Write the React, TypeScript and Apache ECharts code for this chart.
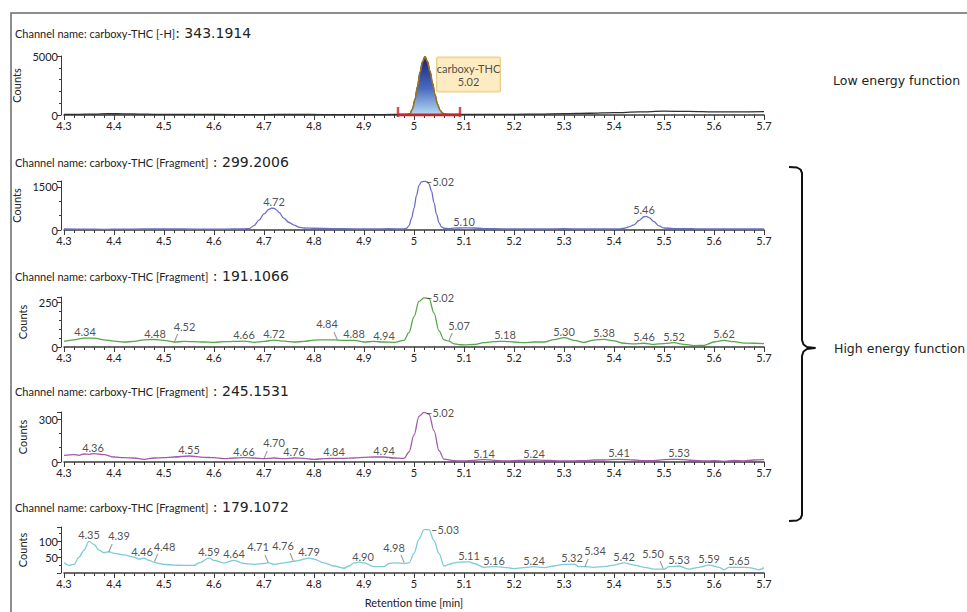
import React, { useEffect, useRef } from "react";
import * as echarts from "echarts";

// ---------- data ----------
const xTickMin = 4.3;
const xTickMax = 5.7;
const xTickStep = 0.1;

const channelNames = [
  "Channel name: carboxy-THC [-H]",
  "Channel name: carboxy-THC [Fragment]",
  "Channel name: carboxy-THC [Fragment]",
  "Channel name: carboxy-THC [Fragment]",
  "Channel name: carboxy-THC [Fragment]",
];
const channelMasses = [": 343.1914", " : 299.2006", " : 191.1066", " : 245.1531", " : 179.1072"];

const yMaxes = [5000, 1700, 280, 350, 145];
const yIntervals = [5000, 1500, 250, 300, 50];
const yMinorSplits = [5, 3, 5, 3, 2];

// low energy function 343.1914
const p1Trace = [
  [4.3, 50], [4.33, 60], [4.36, 80], [4.39, 110], [4.42, 100], [4.45, 80], [4.48, 60], [4.52, 50],
  [4.58, 45], [4.64, 40], [4.7, 40], [4.76, 45], [4.82, 40], [4.88, 40], [4.94, 40], [4.98, 50],
  [4.987, 60], [4.992, 100], [4.997, 500], [5.002, 1300], [5.007, 2400], [5.012, 3600], [5.017, 4500],
  [5.022, 4950], [5.027, 4500], [5.032, 3700], [5.037, 2700], [5.042, 1700], [5.047, 900], [5.052, 400],
  [5.057, 150], [5.062, 70], [5.07, 55], [5.1, 50], [5.15, 50], [5.2, 60], [5.25, 80], [5.3, 110],
  [5.35, 150], [5.4, 200], [5.45, 260], [5.5, 320], [5.55, 300], [5.6, 260], [5.65, 270], [5.7, 280],
];
const p1Peak = [
  [4.987, 60], [4.992, 100], [4.997, 500], [5.002, 1300], [5.007, 2400], [5.012, 3600], [5.017, 4500],
  [5.022, 4950], [5.027, 4500], [5.032, 3700], [5.037, 2700], [5.042, 1700], [5.047, 900], [5.052, 400],
  [5.057, 150], [5.062, 70],
];
const p1Integration = [4.968, 5.092];
const p1PeakName = "carboxy-THC";
const p1PeakRt = 5.022;
const p1PeakCounts = 4950;

// high energy 299.2006
const p2Trace = [
  [4.3, 35], [4.34, 30], [4.38, 25], [4.42, 30], [4.46, 35], [4.5, 40], [4.54, 35], [4.58, 30], [4.62, 30],
  [4.66, 40], [4.67, 50], [4.68, 150], [4.69, 340], [4.7, 560], [4.71, 720], [4.715, 760], [4.72, 750],
  [4.725, 700], [4.73, 610], [4.74, 400], [4.75, 260], [4.76, 170], [4.77, 100], [4.78, 70], [4.8, 60],
  [4.84, 50], [4.88, 40], [4.92, 40], [4.95, 45], [4.98, 40], [4.985, 60], [4.99, 150], [4.995, 400],
  [5.0, 750], [5.005, 1200], [5.01, 1550], [5.015, 1670], [5.02, 1690], [5.025, 1680], [5.03, 1600],
  [5.035, 1350], [5.04, 950], [5.045, 550], [5.05, 250], [5.055, 110], [5.06, 60], [5.07, 50], [5.08, 65],
  [5.1, 75], [5.12, 70], [5.14, 50], [5.18, 40], [5.22, 35], [5.26, 35], [5.3, 45], [5.34, 35], [5.38, 35],
  [5.41, 40], [5.42, 60], [5.43, 110], [5.44, 180], [5.45, 330], [5.46, 460], [5.465, 470], [5.47, 430],
  [5.48, 290], [5.49, 140], [5.5, 70], [5.52, 50], [5.56, 45], [5.6, 35], [5.65, 35], [5.7, 35],
];
const p2Labels = [[4.72, 760, "t"], [5.02, 1690, "r"], [5.1, 75, "t"], [5.46, 470, "t"]];

// high energy 191.1066
const p3Trace = [
  [4.3, 31], [4.32, 40], [4.34, 50], [4.36, 50], [4.38, 40], [4.4, 33], [4.42, 28], [4.44, 31], [4.46, 40],
  [4.48, 42], [4.5, 37], [4.52, 28], [4.54, 31], [4.56, 30], [4.58, 28], [4.6, 26], [4.62, 30], [4.64, 31],
  [4.66, 33], [4.68, 26], [4.7, 31], [4.72, 39], [4.74, 33], [4.76, 28], [4.78, 31], [4.8, 39], [4.82, 40],
  [4.84, 40], [4.86, 37], [4.88, 37], [4.9, 28], [4.92, 31], [4.94, 28], [4.96, 26], [4.98, 37], [4.99, 80],
  [5.0, 170], [5.01, 255], [5.02, 275], [5.03, 272], [5.04, 190], [5.05, 90], [5.06, 40], [5.07, 33],
  [5.08, 18], [5.09, 13], [5.1, 12], [5.12, 14], [5.14, 24], [5.16, 30], [5.18, 32], [5.2, 28], [5.22, 24],
  [5.24, 28], [5.26, 28], [5.28, 41], [5.3, 53], [5.32, 37], [5.34, 26], [5.36, 39], [5.38, 43], [5.4, 34],
  [5.42, 21], [5.44, 17], [5.46, 21], [5.48, 15], [5.5, 19], [5.52, 24], [5.54, 15], [5.56, 8], [5.58, 9],
  [5.6, 28], [5.62, 37], [5.64, 30], [5.66, 22], [5.68, 21], [5.7, 19],
];
const p3Labels = [
  [4.342, 50, "t"], [4.482, 42, "t"], [4.523, 28, "/"], [4.66, 33, "t"], [4.72, 39, "t"], [4.844, 40, "\\"],
  [4.88, 37, "t"], [4.94, 28, "t"], [5.02, 275, "r"], [5.072, 33, "/"], [5.182, 32, "t"], [5.3, 53, "t"],
  [5.38, 43, "t"], [5.46, 21, "t"], [5.52, 24, "t"], [5.62, 37, "t"],
];

// high energy 245.1531
const p4Trace = [
  [4.3, 47], [4.32, 52], [4.33, 47], [4.34, 56], [4.35, 54], [4.36, 59], [4.38, 52], [4.4, 35], [4.42, 30],
  [4.44, 28], [4.46, 19], [4.48, 28], [4.5, 30], [4.52, 35], [4.55, 42], [4.58, 33], [4.6, 30], [4.62, 23],
  [4.64, 28], [4.66, 30], [4.68, 28], [4.7, 23], [4.72, 28], [4.74, 23], [4.76, 28], [4.78, 26], [4.8, 19],
  [4.82, 23], [4.84, 26], [4.86, 26], [4.88, 28], [4.9, 33], [4.92, 35], [4.94, 35], [4.96, 28], [4.98, 25],
  [4.99, 70], [5.0, 190], [5.01, 320], [5.02, 347], [5.03, 335], [5.04, 220], [5.05, 80], [5.06, 20],
  [5.08, 9], [5.1, 7], [5.12, 12], [5.14, 17], [5.16, 12], [5.18, 7], [5.2, 10], [5.22, 12], [5.24, 14],
  [5.26, 12], [5.28, 10], [5.3, 7], [5.32, 8], [5.34, 10], [5.36, 14], [5.38, 14], [5.41, 19], [5.44, 14],
  [5.46, 10], [5.48, 10], [5.5, 17], [5.53, 19], [5.56, 12], [5.58, 7], [5.6, 10], [5.62, 5], [5.64, 12],
  [5.66, 7], [5.68, 14], [5.7, 17],
];
const p4Labels = [
  [4.358, 59, "t"], [4.55, 42, "t"], [4.66, 30, "t"], [4.702, 23, "/"], [4.76, 28, "t"], [4.84, 26, "t"],
  [4.94, 35, "t"], [5.02, 347, "r"], [5.14, 17, "t"], [5.24, 14, "t"], [5.41, 19, "t"], [5.53, 19, "t"],
];

// high energy 179.1072
const p5Trace = [
  [4.3, 32], [4.31, 24], [4.32, 27], [4.33, 50], [4.34, 72], [4.35, 100], [4.36, 90], [4.37, 72], [4.38, 64],
  [4.39, 67], [4.4, 62], [4.42, 57], [4.44, 50], [4.45, 44], [4.46, 47], [4.47, 40], [4.48, 34], [4.49, 30],
  [4.5, 27], [4.52, 25], [4.54, 24], [4.56, 24], [4.57, 32], [4.59, 47], [4.6, 40], [4.62, 32], [4.64, 40],
  [4.66, 30], [4.68, 27], [4.7, 30], [4.71, 32], [4.72, 27], [4.74, 32], [4.76, 37], [4.77, 40], [4.79, 47],
  [4.8, 44], [4.82, 32], [4.84, 22], [4.86, 15], [4.87, 22], [4.88, 32], [4.89, 34], [4.9, 32], [4.92, 20],
  [4.94, 20], [4.95, 30], [4.96, 32], [4.98, 30], [4.99, 32], [5.0, 62], [5.01, 107], [5.02, 137],
  [5.03, 137], [5.04, 102], [5.05, 62], [5.06, 22], [5.07, 27], [5.08, 32], [5.09, 34], [5.1, 35],
  [5.11, 35], [5.12, 30], [5.14, 18], [5.16, 20], [5.18, 18], [5.2, 14], [5.22, 17], [5.24, 20], [5.26, 17],
  [5.28, 22], [5.3, 27], [5.32, 28], [5.33, 20], [5.34, 20], [5.36, 18], [5.38, 20], [5.4, 25], [5.42, 32],
  [5.44, 25], [5.46, 18], [5.48, 12], [5.5, 12], [5.51, 20], [5.53, 22], [5.55, 12], [5.57, 18], [5.59, 25],
  [5.61, 18], [5.62, 10], [5.63, 18], [5.65, 18], [5.67, 17], [5.69, 10], [5.7, 17],
];
const p5Labels = [
  [4.35, 100, "t"], [4.392, 67, "/"], [4.456, 47, "t"], [4.483, 34, "/"], [4.59, 47, "t"], [4.64, 40, "t"],
  [4.706, 32, "\\"], [4.756, 37, "\\"], [4.79, 47, "t"], [4.898, 32, "t"], [4.978, 30, "\\"], [5.03, 137, "r"],
  [5.11, 35, "t"], [5.16, 20, "t"], [5.24, 20, "t"], [5.316, 28, "t"], [5.344, 20, "/"], [5.42, 32, "t"],
  [5.496, 12, "\\"], [5.53, 22, "t"], [5.59, 25, "t"], [5.65, 18, "t"],
];

const traceColors = ["#2e2e2e", "#6a70c6", "#56a64a", "#a25aab", "#7ccbd9"];
const rightTexts = ["Low energy function", "High energy function"];
const xAxisTitle = "Retention time [min]";
const yAxisTitle = "Counts";

// ---------- layout ----------
const FONT = 'Lato, "Liberation Sans", sans-serif';
const BIG_FONT = '"DejaVu Sans", Verdana, sans-serif';
const gridTops = [56, 181, 297, 412, 527];
const gridHeights = [59, 49, 50, 50, 46];
const titleCenters = [33, 162, 276, 391, 507];
const AX = "#3a3a3a";
const TXT = "#222";

const rtText = (t: number) => (Math.round(t * 100) / 100).toFixed(2);

function labelSeries(idx: number, labels: any[]) {
  return {
    type: "scatter",
    xAxisIndex: idx,
    yAxisIndex: idx,
    symbolSize: 0,
    silent: true,
    z: 6,
    data: labels.map(([t, v, k]: any) => {
      const txt = rtText(t);
      let label: any;
      if (k === "r") {
        label = { position: "right", distance: 2, formatter: "\u2013" + txt };
      } else if (k === "/" || k === "\\") {
        label = {
          position: "top",
          distance: 0,
          offset: [k === "/" ? 9 : -9, 0],
          formatter: `{t|${txt}}\n{l|${k}}`,
          rich: {
            t: { fontSize: 11, fontFamily: FONT, color: TXT, lineHeight: 12 },
            l: { fontSize: 10, fontFamily: FONT, color: "#333", lineHeight: 10, align: k === "/" ? "left" : "right" },
          },
        };
      } else {
        label = { position: "top", distance: 1, formatter: txt };
      }
      return { value: [t, v], label };
    }),
    label: { show: true, color: TXT, fontSize: 11, fontFamily: FONT },
  };
}

function traceSeries(idx: number, data: number[][], color: string) {
  return {
    type: "line",
    xAxisIndex: idx,
    yAxisIndex: idx,
    data,
    symbol: "none",
    smooth: 0.35,
    smoothMonotone: "x",
    lineStyle: { color, width: 1.3 },
    silent: true,
    z: 3,
  };
}

export default function App() {
  const ref = useRef<HTMLDivElement>(null);
  useEffect(() => {
    if (!ref.current) return;
    const chart = echarts.init(ref.current, null, { renderer: "svg" });

    const grid = gridTops.map((top, i) => ({ left: 64, width: 700, top, height: gridHeights[i] }));

    const xAxis = gridTops.map((_, i) => ({
      type: "value",
      gridIndex: i,
      min: xTickMin,
      max: xTickMax,
      interval: xTickStep,
      axisLine: { show: true, onZero: false, lineStyle: { color: AX, width: 1.5 } },
      axisTick: { show: true, length: 5, lineStyle: { color: AX } },
      minorTick: { show: true, splitNumber: 5, length: 3, lineStyle: { color: AX } },
      splitLine: { show: false },
      minorSplitLine: { show: false },
      axisLabel: {
        fontSize: 11,
        fontFamily: FONT,
        color: TXT,
        margin: 5,
        formatter: (v: number) => String(Math.round(v * 10) / 10),
      },
      name: i === 4 ? xAxisTitle : "",
      nameLocation: "middle",
      nameGap: 24,
      nameTextStyle: { fontSize: 11, fontFamily: FONT, color: TXT },
    }));

    const yAxis = gridTops.map((_, i) => ({
      type: "value",
      gridIndex: i,
      min: 0,
      max: yMaxes[i],
      interval: yIntervals[i],
      offset: 3,
      axisLine: { show: true, lineStyle: { color: AX, width: 1 } },
      axisTick: { show: true, length: 4, lineStyle: { color: AX } },
      minorTick: { show: true, splitNumber: yMinorSplits[i], length: 2, lineStyle: { color: AX } },
      splitLine: { show: false },
      minorSplitLine: { show: false },
      axisLabel: {
        fontSize: 11,
        fontFamily: FONT,
        color: TXT,
        margin: 3,
        formatter: (v: number) =>
          Math.abs(v % yIntervals[i]) < 1e-9 && (i !== 4 || v > 0) ? String(v) : "",
      },
      name: yAxisTitle,
      nameLocation: "middle",
      nameRotate: 90,
      nameGap: 32,
      nameTextStyle: { fontSize: 11, fontFamily: FONT, color: TXT },
    }));

    const series: any[] = [
      traceSeries(0, p1Trace, traceColors[0]),
      {
        type: "line",
        xAxisIndex: 0,
        yAxisIndex: 0,
        data: p1Peak,
        symbol: "none",
        smooth: 0.35,
        smoothMonotone: "x",
        lineStyle: { color: "#9a7420", width: 1.6 },
        areaStyle: {
          color: new echarts.graphic.LinearGradient(0, 0, 0, 1, [
            { offset: 0, color: "#15207a" },
            { offset: 0.55, color: "#4a6cc0" },
            { offset: 1, color: "#b8dcf5" },
          ]),
          opacity: 1,
        },
        silent: true,
        z: 4,
      },
      {
        type: "line",
        xAxisIndex: 0,
        yAxisIndex: 0,
        data: p1Integration.map((t) => [t, 0]),
        symbol: "none",
        lineStyle: { color: "#c3262c", width: 3 },
        silent: true,
        z: 5,
      },
      {
        type: "scatter",
        xAxisIndex: 0,
        yAxisIndex: 0,
        data: p1Integration.map((t) => [t, 0]),
        symbol: "rect",
        symbolSize: [2.5, 10],
        symbolOffset: [0, -3],
        itemStyle: { color: "#c3262c" },
        silent: true,
        z: 5,
      },
      {
        type: "scatter",
        xAxisIndex: 0,
        yAxisIndex: 0,
        data: [[p1PeakRt, p1PeakCounts]],
        symbolSize: 0,
        silent: true,
        z: 7,
        label: {
          show: true,
          position: "right",
          distance: 12,
          offset: [0, 18],
          formatter: `{t|${p1PeakName}}\n{t|${rtText(p1PeakRt)}}`,
          backgroundColor: "#fde7b2",
          borderColor: "#e6c26a",
          borderWidth: 1,
          borderRadius: 1,
          padding: [4, 3],
          rich: { t: { fontSize: 11, fontFamily: FONT, color: TXT, width: 57, align: "center", lineHeight: 13 } },
        },
      },
      traceSeries(1, p2Trace, traceColors[1]),
      labelSeries(1, p2Labels),
      traceSeries(2, p3Trace, traceColors[2]),
      labelSeries(2, p3Labels),
      traceSeries(3, p4Trace, traceColors[3]),
      labelSeries(3, p4Labels),
      traceSeries(4, p5Trace, traceColors[4]),
      labelSeries(4, p5Labels),
    ];

    const title = channelNames.map((name, i) => ({
      text: `{a|${name}}{b|${channelMasses[i]}}`,
      left: 15,
      top: titleCenters[i] - 9,
      padding: 0,
      textStyle: {
        fontWeight: "normal",
        rich: {
          a: { fontSize: 11, fontFamily: FONT, color: TXT, lineHeight: 18, fontWeight: "normal" },
          b: { fontSize: 14, fontFamily: BIG_FONT, color: TXT, lineHeight: 18, fontWeight: "normal" },
        },
      },
    }));

    const brace = [
      [789, 167], [797, 167.5], [800.5, 169.5], [802, 173], [802, 340], [803.5, 344.5], [807, 347], [815, 348],
      [807, 349], [803.5, 351.5], [802, 356], [802, 515], [800.5, 518.5], [797, 520.5], [789, 521],
    ];

    chart.setOption({
      animation: false,
      backgroundColor: "#ffffff",
      title,
      grid,
      xAxis,
      yAxis,
      series,
      graphic: [
        {
          type: "rect",
          silent: true,
          z: -10,
          shape: { x: 11, y: 13, width: 1000, height: 700 },
          style: { stroke: "#6a6a6a", lineWidth: 1.5, fill: "none" },
        },
        {
          type: "polyline",
          silent: true,
          shape: { points: brace },
          style: { stroke: "#111", lineWidth: 2, fill: "none", lineJoin: "round" },
        },
        {
          type: "text",
          x: 833,
          y: 80,
          style: { text: rightTexts[0], fill: TXT, fontSize: 12.5, fontFamily: BIG_FONT, verticalAlign: "middle" },
        },
        {
          type: "text",
          x: 834,
          y: 348,
          style: { text: rightTexts[1], fill: TXT, fontSize: 12.5, fontFamily: BIG_FONT, verticalAlign: "middle" },
        },
      ],
    });
    return () => chart.dispose();
  }, []);

  return (
    <div
      ref={ref}
      style={{ position: "fixed", left: 0, top: 0, width: 967, height: 612, background: "#fff" }}
    />
  );
}
